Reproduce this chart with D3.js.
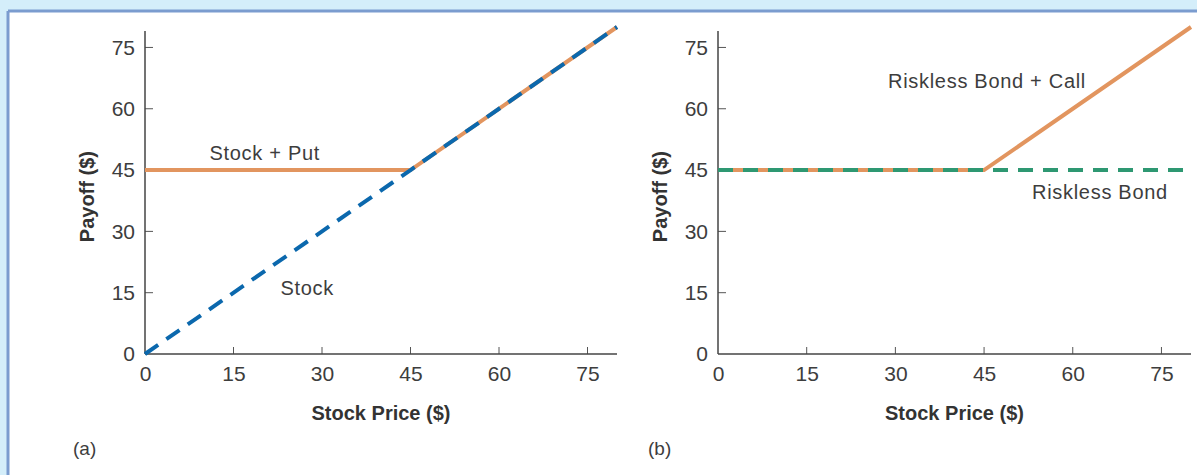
<!DOCTYPE html>
<html>
<head>
<meta charset="utf-8">
<script src="https://cdn.jsdelivr.net/npm/d3@7"></script>
<style>
  html, body { margin: 0; padding: 0; background: #d4eefa; }
  svg { display: block; }
  text { font-family: "Liberation Sans", Arial, sans-serif; }
</style>
</head>
<body>
<svg id="chart" width="1197" height="475"></svg>
<script>
// ---- data ----
const tickValues = [0, 15, 30, 45, 60, 75];
const stockPrices = [0, 45, 80];
const stockPayoff = [0, 45, 80];
const stockPlusPut = [45, 45, 80];
const bondPrices = [0, 80];
const risklessBond = [45, 45];
const bondPlusCall = [45, 45, 80];

const orange = "#e2955f";
const blue = "#0b68ad";
const green = "#2e9872";
const textColor = "#3d3d3d";

const svg = d3.select("#chart");
// frame
svg.append("rect").attr("x", 0).attr("y", 0).attr("width", 1197).attr("height", 475).attr("fill", "#d4eefa");
svg.append("rect").attr("x", 8).attr("y", 11).attr("width", 1189).attr("height", 464).attr("fill", "#ffffff");
svg.append("line").attr("x1", 8).attr("x2", 1197).attr("y1", 11).attr("y2", 11).attr("stroke", "#7b9ccf").attr("stroke-width", 3);
svg.append("line").attr("x1", 8).attr("x2", 8).attr("y1", 11).attr("y2", 475).attr("stroke", "#7b9ccf").attr("stroke-width", 3);

function panel(opts) {
  const g = svg.append("g");
  const x = d3.scaleLinear().domain([0, 80]).range([opts.x0, opts.x1]);
  const y = d3.scaleLinear().domain([0, 80]).range([354, 27]);

  const xAxis = d3.axisBottom(x).tickValues(tickValues).tickSize(0).tickPadding(9).tickSizeOuter(0);
  const yAxis = d3.axisLeft(y).tickValues(tickValues).tickSize(0).tickPadding(10).tickSizeOuter(0);

  const gx = g.append("g").attr("transform", `translate(0,${y(0)})`).call(xAxis);
  const gy = g.append("g").attr("transform", `translate(${x(0)},0)`).call(yAxis);
  [gx, gy].forEach(a => {
    a.select(".domain").remove();
    a.selectAll("text").attr("font-size", 21).attr("fill", textColor)
      .attr("font-family", "Liberation Sans, Arial, sans-serif");
  });
  gx.selectAll("text").attr("dy", "0.85em");
  gy.selectAll("text").attr("dx", "0");

  // inner ticks
  g.selectAll(".xt").data(tickValues.filter(d => d > 0)).join("line")
    .attr("x1", d => x(d)).attr("x2", d => x(d)).attr("y1", y(0)).attr("y2", y(0) - 7)
    .attr("stroke", "#555").attr("stroke-width", 1);
  g.selectAll(".yt").data(tickValues.filter(d => d > 0)).join("line")
    .attr("x1", x(0)).attr("x2", x(0) + 8).attr("y1", d => y(d)).attr("y2", d => y(d))
    .attr("stroke", "#555").attr("stroke-width", 1);

  // axis lines
  g.append("line").attr("x1", x(0)).attr("x2", x(80)).attr("y1", y(0)).attr("y2", y(0))
    .attr("stroke", "#444").attr("stroke-width", 1.5);
  g.append("line").attr("x1", x(0)).attr("x2", x(0)).attr("y1", y(0)).attr("y2", y(79))
    .attr("stroke", "#444").attr("stroke-width", 1.5);

  // axis titles
  g.append("text").attr("x", (x(0) + x(80)) / 2).attr("y", 420).attr("text-anchor", "middle")
    .attr("font-size", 20).attr("font-weight", "bold").attr("fill", "#333").text("Stock Price ($)");
  g.append("text").attr("transform", `translate(${x(0) - 51},${y(38.5)}) rotate(-90)`)
    .attr("text-anchor", "middle").attr("font-size", 20).attr("font-weight", "bold").attr("fill", "#333")
    .text("Payoff ($)");
  g.append("text").attr("x", opts.labelX).attr("y", 455).attr("font-size", 19).attr("fill", textColor).text(opts.label);

  const line = d3.line().x(d => x(d[0])).y(d => y(d[1]));
  opts.series.forEach(s => {
    g.append("path").datum(s.xs.map((v, i) => [v, s.ys[i]])).attr("d", line)
      .attr("fill", "none").attr("stroke", s.color).attr("stroke-width", 4)
      .attr("stroke-dasharray", s.dash || null);
  });
  opts.notes.forEach(n => {
    g.append("text").attr("x", x(n.x)).attr("y", y(n.y)).attr("text-anchor", "middle")
      .attr("font-size", 20).attr("letter-spacing", "0.7").attr("fill", textColor).text(n.text);
  });
}

panel({
  x0: 145, x1: 617, label: "(a)", labelX: 73,
  series: [
    { xs: stockPrices, ys: stockPlusPut, color: orange },
    { xs: stockPrices, ys: stockPayoff, color: blue, dash: "16,10" }
  ],
  notes: [
    { text: "Stock + Put", x: 20.3, y: 47.5 },
    { text: "Stock", x: 27.5, y: 14.4 }
  ]
});

panel({
  x0: 718, x1: 1191, label: "(b)", labelX: 648,
  series: [
    { xs: stockPrices, ys: bondPlusCall, color: orange },
    { xs: bondPrices, ys: risklessBond, color: green, dash: "15,10" }
  ],
  notes: [
    { text: "Riskless Bond + Call", x: 45.5, y: 65.1 },
    { text: "Riskless Bond", x: 64.6, y: 37.8 }
  ]
});
</script>
</body>
</html>
